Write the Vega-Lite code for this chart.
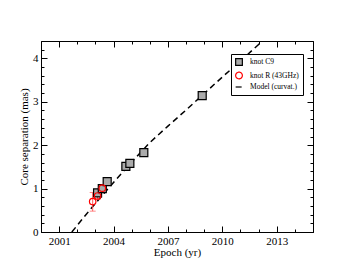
{
  "$schema": "https://vega.github.io/schema/vega-lite/v6.json",
  "width": 272,
  "height": 191,
  "autosize": {"type": "none"},
  "padding": {"left": 41, "top": 41, "right": 40, "bottom": 41},
  "background": "white",
  "config": {
    "view": {"stroke": "black", "strokeWidth": 1},
    "axis": {
      "grid": false, "domain": false, "tickColor": "black", "tickWidth": 1,
      "labelFont": "Liberation Serif", "titleFont": "Liberation Serif",
      "labelFontSize": 11, "titleFontSize": 11, "labelColor": "black", "titleColor": "black",
      "titleFontWeight": "normal", "labelFlush": false
    },
    "legend": {
      "orient": "none", "legendX": 190, "legendY": 13,
      "strokeColor": "black", "fillColor": "white", "padding": 4, "cornerRadius": 0,
      "labelFont": "Liberation Serif", "labelFontSize": 7.5, "labelColor": "black",
      "symbolSize": 45, "rowPadding": 1.5, "labelOffset": 7, "symbolStrokeWidth": 1.2
    }
  },
  "datasets": {
    "model": [
      {"year": 2001.7, "sep": 0, "series": "Model (curvat.)"},
      {"year": 2002.5, "sep": 0.41, "series": "Model (curvat.)"},
      {"year": 2003.0, "sep": 0.66, "series": "Model (curvat.)"},
      {"year": 2003.5, "sep": 0.9, "series": "Model (curvat.)"},
      {"year": 2004.0, "sep": 1.14, "series": "Model (curvat.)"},
      {"year": 2005.0, "sep": 1.61, "series": "Model (curvat.)"},
      {"year": 2006.0, "sep": 2.06, "series": "Model (curvat.)"},
      {"year": 2007.0, "sep": 2.44, "series": "Model (curvat.)"},
      {"year": 2008.0, "sep": 2.81, "series": "Model (curvat.)"},
      {"year": 2009.0, "sep": 3.19, "series": "Model (curvat.)"},
      {"year": 2010.0, "sep": 3.57, "series": "Model (curvat.)"},
      {"year": 2011.0, "sep": 3.94, "series": "Model (curvat.)"},
      {"year": 2012.0, "sep": 4.32, "series": "Model (curvat.)"},
      {"year": 2013.0, "sep": 4.7, "series": "Model (curvat.)"}
    ],
    "c9": [
      {"year": 2003.12, "sep": 0.9, "series": "knot C9"},
      {"year": 2003.38, "sep": 1.0, "series": "knot C9"},
      {"year": 2003.65, "sep": 1.16, "series": "knot C9"},
      {"year": 2004.68, "sep": 1.51, "series": "knot C9"},
      {"year": 2004.9, "sep": 1.58, "series": "knot C9"},
      {"year": 2005.67, "sep": 1.83, "series": "knot C9"},
      {"year": 2008.89, "sep": 3.14, "series": "knot C9"}
    ],
    "r": [
      {"year": 2002.85, "sep": 0.7, "lo": 0.48, "hi": 0.91, "series": "knot R (43GHz)"},
      {"year": 2003.12, "sep": 0.83, "lo": 0.75, "hi": 0.91, "series": "knot R (43GHz)"},
      {"year": 2003.38, "sep": 1.01, "lo": 0.97, "hi": 1.05, "series": "knot R (43GHz)"}
    ]
  },
  "layer": [
    {
      "data": {"name": "model"},
      "mark": {"type": "line", "strokeWidth": 1.5, "clip": true},
      "encoding": {
        "x": {"field": "year", "type": "quantitative", "scale": {"domain": [2000, 2015], "nice": false},
          "axis": {"orient": "bottom", "values": [2001, 2004, 2007, 2010, 2013], "format": "d", "tickSize": -6, "labelPadding": 9, "title": "Epoch (yr)", "titlePadding": 0}},
        "y": {"field": "sep", "type": "quantitative", "scale": {"domain": [0, 4.4], "nice": false},
          "axis": {"orient": "left", "values": [0, 1, 2, 3, 4], "tickSize": -6, "labelPadding": 9, "title": "Core separation (mas)", "titlePadding": 3}},
        "stroke": {"field": "series", "type": "nominal",
          "scale": {"domain": ["knot C9", "knot R (43GHz)", "Model (curvat.)"], "range": ["black", "red", "black"]},
          "legend": {"title": null}},
        "strokeDash": {"field": "series", "type": "nominal",
          "scale": {"domain": ["knot C9", "knot R (43GHz)", "Model (curvat.)"], "range": [[1, 0], [1, 0], [6, 4]]},
          "legend": {"title": null}}
      }
    },
    {
      "data": {"name": "r"},
      "mark": {"type": "rule", "color": "#ff5a5a", "strokeWidth": 1},
      "encoding": {
        "x": {"field": "year", "type": "quantitative",
          "axis": {"orient": "bottom", "values": [2000, 2001, 2002, 2003, 2004, 2005, 2006, 2007, 2008, 2009, 2010, 2011, 2012, 2013, 2014, 2015], "tickSize": -3, "labels": false, "title": null}},
        "y": {"field": "lo", "type": "quantitative",
          "axis": {"orient": "left", "values": [0, 0.2, 0.4, 0.6, 0.8, 1, 1.2, 1.4, 1.6, 1.8, 2, 2.2, 2.4, 2.6, 2.8, 3, 3.2, 3.4, 3.6, 3.8, 4, 4.2, 4.4], "tickSize": -3, "labels": false, "title": null}},
        "y2": {"field": "hi"}
      }
    },
    {
      "data": {"name": "r"},
      "mark": {"type": "tick", "color": "#ff5a5a", "orient": "horizontal", "size": 6, "thickness": 1},
      "encoding": {
        "x": {"field": "year", "type": "quantitative", "axis": null},
        "y": {"field": "lo", "type": "quantitative", "axis": null}
      }
    },
    {
      "data": {"name": "r"},
      "mark": {"type": "tick", "color": "#ff5a5a", "orient": "horizontal", "size": 6, "thickness": 1},
      "encoding": {
        "x": {"field": "year", "type": "quantitative", "axis": null},
        "y": {"field": "hi", "type": "quantitative", "axis": null}
      }
    },
    {
      "data": {"name": "c9"},
      "mark": {"type": "point", "size": 64, "strokeWidth": 1.2, "opacity": 1},
      "encoding": {
        "x": {"field": "year", "type": "quantitative",
          "axis": {"orient": "top", "values": [2001, 2004, 2007, 2010, 2013], "tickSize": -6, "labels": false, "title": null}},
        "y": {"field": "sep", "type": "quantitative",
          "axis": {"orient": "right", "values": [0, 1, 2, 3, 4], "tickSize": -6, "labels": false, "title": null}},
        "stroke": {"field": "series", "type": "nominal"},
        "fill": {"field": "series", "type": "nominal",
          "scale": {"domain": ["knot C9", "knot R (43GHz)", "Model (curvat.)"], "range": ["#ababab", "transparent", "transparent"]},
          "legend": {"title": null}},
        "shape": {"field": "series", "type": "nominal",
          "scale": {"domain": ["knot C9", "knot R (43GHz)", "Model (curvat.)"], "range": ["square", "circle", "stroke"]},
          "legend": {"title": null}}
      }
    },
    {
      "data": {"name": "r"},
      "mark": {"type": "point", "size": 42, "strokeWidth": 1.2, "opacity": 1},
      "encoding": {
        "x": {"field": "year", "type": "quantitative",
          "axis": {"orient": "top", "values": [2000, 2001, 2002, 2003, 2004, 2005, 2006, 2007, 2008, 2009, 2010, 2011, 2012, 2013, 2014, 2015], "tickSize": -3, "labels": false, "title": null}},
        "y": {"field": "sep", "type": "quantitative",
          "axis": {"orient": "right", "values": [0, 0.2, 0.4, 0.6, 0.8, 1, 1.2, 1.4, 1.6, 1.8, 2, 2.2, 2.4, 2.6, 2.8, 3, 3.2, 3.4, 3.6, 3.8, 4, 4.2, 4.4], "tickSize": -3, "labels": false, "title": null}},
        "stroke": {"field": "series", "type": "nominal"},
        "fill": {"field": "series", "type": "nominal"},
        "shape": {"field": "series", "type": "nominal"}
      }
    }
  ]
}
